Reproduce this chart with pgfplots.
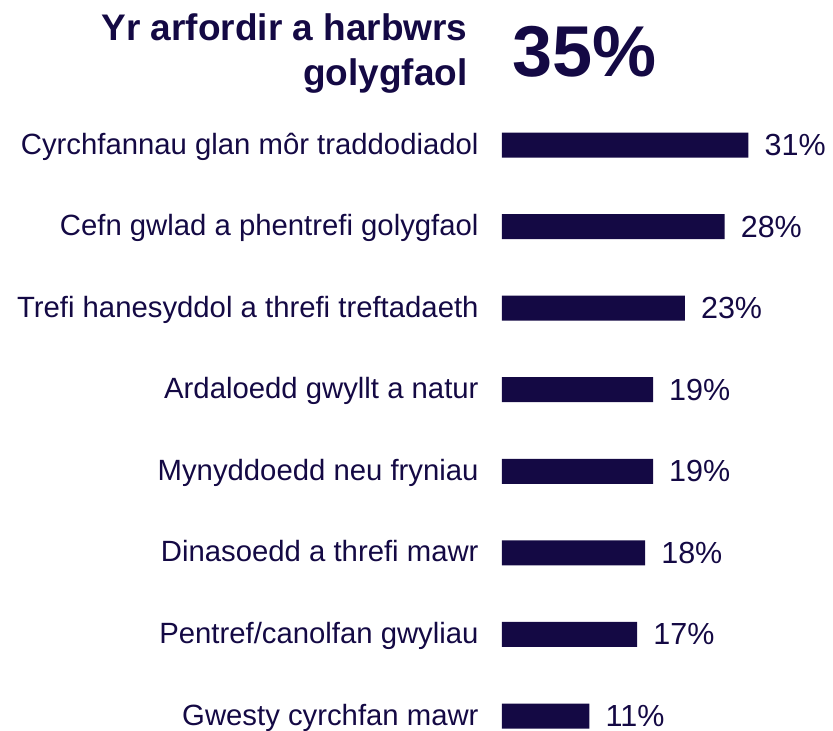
\documentclass[border=0pt]{standalone}
\usepackage{fontspec}
\setmainfont{Liberation Sans}
\usepackage{pgfplots}
\pgfplotsset{compat=1.18}
\definecolor{navy}{RGB}{20,9,68}
\begin{document}
\begin{tikzpicture}
\begin{axis}[
  scale only axis,
  width=331bp, height=731bp,
  xmin=0, xmax=41.635,
  ymin=-1.778, ymax=7.184,
  y dir=reverse,
  xbar, bar width=25bp,
  axis line style={draw=none},
  tick style={draw=none},
  xtick=\empty,
  ytick={0,1,2,3,4,5,6,7},
  yticklabels={Cyrchfannau glan môr traddodiadol, Cefn gwlad a phentrefi golygfaol, Trefi hanesyddol a threfi treftadaeth, Ardaloedd gwyllt a natur, Mynyddoedd neu fryniau, Dinasoedd a threfi mawr, Pentref/canolfan gwyliau, Gwesty cyrchfan mawr},
  yticklabel style={font=\fontsize{29.3bp}{35bp}\selectfont, text=navy, anchor=base east, inner sep=0pt, xshift=-19bp, yshift=-9bp},
  point meta=x,
  /pgf/number format/assume math mode=true,
  nodes near coords={\pgfmathprintnumber{\pgfplotspointmeta}\%},
  nodes near coords style={font=\fontsize{30.5bp}{36bp}\selectfont, text=navy, anchor=base west, inner sep=0pt, text depth=0pt, xshift=16bp, yshift=-10.5bp},
  clip=false,
]
\addplot[fill=navy, draw=none] coordinates {
  (31,0) (28,1) (23,2) (19,3) (19,4) (18,5) (17,6) (11,7)
};
\node[anchor=base east, inner sep=0pt, text=navy, font=\fontsize{37bp}{45bp}\selectfont\bfseries] at (axis cs:-4.3,-1.287) {Yr arfordir a harbwrs};
\node[anchor=base east, inner sep=0pt, text=navy, font=\fontsize{37bp}{45bp}\selectfont\bfseries] at (axis cs:-4.3,-0.7356) {golygfaol};
\node[anchor=base west, inner sep=0pt, text=navy, font=\fontsize{72bp}{80bp}\selectfont\bfseries] at (axis cs:1.26,-0.834) {35\%};
\end{axis}
\pgfresetboundingbox
\path[use as bounding box] (-502bp,0) rectangle (331bp,731bp);
\end{tikzpicture}
\end{document}
